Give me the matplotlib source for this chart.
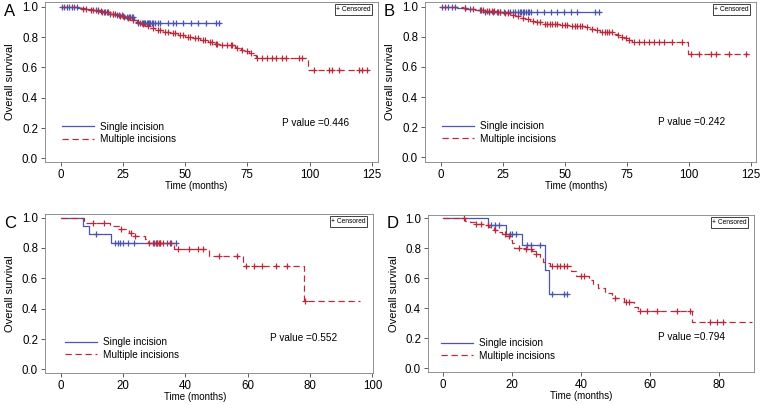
import numpy as np
import matplotlib
matplotlib.use("Agg")
import matplotlib.pyplot as plt

plt.rcParams['font.family'] = ['Liberation Sans', 'DejaVu Sans']

BLUE = '#4a55ad'
RED = '#bb2a3c'

# ---------------- Panel A ----------------
a_single_t = [0, 7, 10, 13, 16, 19, 22, 25, 29.5, 30.5]
a_single_s = [1.0, 0.993, 0.985, 0.975, 0.963, 0.952, 0.942, 0.935, 0.915, 0.892]
a_single_end = 64
a_single_c = [0.5, 1.5, 2.5, 3.5, 4.5, 5.5, 6.5, 14, 15, 16.5, 17.5, 18.5, 20, 21, 22.5, 23.5,
              24.5, 25.5, 26.5, 27.5, 28, 28.5, 29, 31, 32, 32.5, 33, 33.5, 34, 34.5, 35,
              35.5, 36, 36.5, 37, 38, 39, 40, 43, 45, 46.4, 49, 52.4, 55, 58.5, 62.4, 63.7]
a_multi_t = [0, 5, 8, 11, 14, 17, 20, 23, 26, 28, 30, 32, 34, 36, 38, 41, 44, 47, 50, 53, 56,
             59, 62, 64, 70, 71, 72.5, 74, 75.5, 77, 78.5, 99.5]
a_multi_s = [1.0, 0.995, 0.988, 0.98, 0.972, 0.962, 0.952, 0.94, 0.925, 0.912, 0.898, 0.885,
             0.872, 0.86, 0.848, 0.836, 0.824, 0.812, 0.802, 0.792, 0.782, 0.768, 0.756, 0.748,
             0.735, 0.725, 0.715, 0.705, 0.695, 0.68, 0.665, 0.585]
a_multi_end = 124
a_multi_c = [9, 10, 12, 13, 15, 16, 18, 19, 21, 22, 24, 25, 27, 29, 31, 33, 35, 37, 39, 40,
             42, 43, 45, 46, 48, 49, 51, 52, 54, 55, 57, 58, 60, 61, 62.4, 63, 65, 67, 68.4, 69,
             71, 73, 75, 76.4, 79, 81, 83, 84.8, 86.4, 89, 90.6, 95.7, 97, 101.7, 107.7, 109,
             111.7, 119.7, 121, 123]

# ---------------- Panel B ----------------
b_single_t = [0, 6.5, 10, 14, 17]
b_single_s = [1.0, 0.993, 0.985, 0.975, 0.963]
b_single_end = 64
b_single_c = [0.4, 1.7, 3, 4.4, 5.7, 9.7, 12, 16.4, 18, 19.5, 21, 22.5, 24, 25.5, 27, 28,
              29, 30, 31, 32, 32.5, 33, 33.6, 34.5, 35, 35.5, 36.3, 39, 41.6, 44.3, 47, 49.6,
              52.3, 55, 62.2, 63.6]
b_multi_t = [0, 6, 9, 12, 15, 18, 22, 25, 28, 30, 32, 34, 36, 38, 41, 48, 52, 58, 60, 62, 64,
             69.5, 71, 72.5, 74, 75.5, 77, 99.5]
b_multi_s = [1.0, 0.995, 0.99, 0.982, 0.975, 0.97, 0.965, 0.958, 0.948, 0.938, 0.928, 0.918,
             0.905, 0.895, 0.885, 0.878, 0.873, 0.868, 0.855, 0.842, 0.835, 0.82, 0.81, 0.8,
             0.79, 0.778, 0.768, 0.686]
b_multi_end = 124
b_multi_c = [10, 13, 16, 17, 18.5, 19.5, 20.5, 21.5, 23, 24, 26, 27, 29, 31, 33, 35, 37, 39,
             40, 42, 43, 44, 45, 46, 47, 49, 50, 51, 53, 54, 55, 56, 57, 59, 61, 63, 65, 66,
             67, 68, 69, 71.5, 73, 74.5, 76, 78, 80, 82, 84, 86, 88, 90, 93, 97, 101, 104,
             109, 111, 116, 123]

# ---------------- Panel C ----------------
c_single_t = [0, 7.2, 9.1, 16.3]
c_single_s = [1.0, 0.943, 0.892, 0.833]
c_single_end = 37
c_single_c = [11.3, 17.5, 18.3, 19, 20, 21.5, 23.5, 30, 31, 32, 34, 35.5, 37]
c_multi_t = [0, 7.5, 16, 19, 22, 23, 27, 28, 36.5, 47.5, 58.5, 78]
c_multi_s = [1.0, 0.963, 0.943, 0.922, 0.9, 0.88, 0.858, 0.835, 0.796, 0.748, 0.678, 0.45]
c_multi_end = 96
c_multi_c = [10.5, 14, 19.5, 22.5, 24, 28.5, 29.5, 30.5, 31, 31.5, 32, 33, 35, 37.7, 41.2,
             44.1, 45.7, 50.9, 56.7, 59.4, 62.1, 64.7, 69, 72.7, 78.5]

# ---------------- Panel D ----------------
d_single_t = [0, 13.1, 18.4, 22.8, 29.6, 30.7]
d_single_s = [1.0, 0.955, 0.895, 0.822, 0.655, 0.493]
d_single_end = 36
d_single_c = [13.8, 15.2, 16.1, 19.3, 20.1, 21.2, 24.3, 25.5, 28.2, 31.5, 35.2, 35.9]
d_multi_t = [0, 6.3, 7.9, 9.4, 11.8, 13.3, 14.8, 16.2, 17.2, 18.2, 19.2, 19.9, 20.7, 24, 25.7,
             27, 28.1, 29.1, 30.1, 31, 37, 38.5, 42.5, 43.6, 45, 47, 49, 52.5, 55.5, 56.7, 72.2]
d_multi_s = [1.0, 0.985, 0.975, 0.962, 0.955, 0.94, 0.925, 0.91, 0.895, 0.88, 0.855, 0.835,
             0.8, 0.795, 0.78, 0.765, 0.745, 0.71, 0.7, 0.68, 0.648, 0.615, 0.59, 0.56, 0.535,
             0.5, 0.467, 0.445, 0.41, 0.383, 0.306]
d_multi_end = 89.6
d_multi_c = [6, 9.5, 11, 13, 15, 18, 19, 22, 24, 25.5, 27, 31.5, 33, 34, 35, 36, 40, 41, 50,
             53, 54, 57.2, 59.1, 62, 67.8, 71.7, 77.5, 79.5, 81.4]

panels = [
    dict(label='A', rect=(45, 2, 378, 162), xlim=(-6.3, 127.5), ylim=(-0.024, 1.031),
         xticks=[0, 25, 50, 75, 100, 125], pval='P value =0.446',
         single=(a_single_t, a_single_s, a_single_end, a_single_c),
         multi=(a_multi_t, a_multi_s, a_multi_end, a_multi_c),
         ptxt=(0.711, 0.245), xlab=0.453, leg=(0.05, 0.252)),
    dict(label='B', rect=(425, 2, 756, 162), xlim=(-6.3, 127.0), ylim=(-0.031, 1.031),
         xticks=[0, 25, 50, 75, 100, 125], pval='P value =0.242',
         single=(b_single_t, b_single_s, b_single_end, b_single_c),
         multi=(b_multi_t, b_multi_s, b_multi_end, b_multi_c),
         ptxt=(0.705, 0.252), xlab=0.458, leg=(0.05, 0.255)),
    dict(label='C', rect=(45, 214, 373, 373), xlim=(-5.0, 100.2), ylim=(-0.024, 1.024),
         xticks=[0, 20, 40, 60, 80, 100], pval='P value =0.552',
         single=(c_single_t, c_single_s, c_single_end, c_single_c),
         multi=(c_multi_t, c_multi_s, c_multi_end, c_multi_c),
         ptxt=(0.686, 0.222), xlab=0.457, leg=(0.06, 0.225)),
    dict(label='D', rect=(428, 215, 754, 372), xlim=(-4.4, 90.3), ylim=(-0.025, 1.022),
         xticks=[0, 20, 40, 60, 80], pval='P value =0.794',
         single=(d_single_t, d_single_s, d_single_end, d_single_c),
         multi=(d_multi_t, d_multi_s, d_multi_end, d_multi_c),
         ptxt=(0.706, 0.225), xlab=0.471, leg=(0.04, 0.215)),
]

W, H = 761, 405
fig = plt.figure(figsize=(W / 100, H / 100), dpi=100)


def surv_at(times, surv, t):
    idx = np.searchsorted(np.asarray(times), np.asarray(t), side='right') - 1
    return np.asarray(surv)[idx]


for p in panels:
    l, t, r, b = p['rect']
    ax = fig.add_axes([l / W, 1 - b / H, (r - l) / W, (b - t) / H])
    handles = []
    for key, color, ls, name in [('single', BLUE, '-', 'Single incision'),
                                 ('multi', RED, (0, (5, 3)), 'Multiple incisions')]:
        times, surv, end, cens = p[key]
        xs = list(times) + [end]
        ys = list(surv) + [surv[-1]]
        h, = ax.step(xs, ys, where='post', color=color, lw=0.9, linestyle=ls, label=name)
        handles.append(h)
        ax.plot(cens, surv_at(times, surv, cens), linestyle='none', marker='+',
                ms=3.8, mew=0.9, color=color)
    ax.set_xlim(*p['xlim'])
    ax.set_ylim(*p['ylim'])
    ax.set_xticks(p['xticks'])
    ax.set_yticks([0, 0.2, 0.4, 0.6, 0.8, 1.0])
    ax.set_yticklabels(['0.0', '0.2', '0.4', '0.6', '0.8', '1.0'])
    ax.tick_params(direction='out', length=3, width=0.6, labelsize=8.3, pad=2,
                   color='#444444')
    for s in ax.spines.values():
        s.set_linewidth(0.6)
        s.set_color('#808080')
    ax.set_xlabel('Time (months)', fontsize=7)
    ax.xaxis.set_label_coords(p['xlab'], -0.12)
    ax.xaxis.label.set_va('top')
    ax.set_ylabel('Overall survival', fontsize=8)
    ax.yaxis.set_label_coords(-0.09, 0.5)
    leg = ax.legend(handles=handles, loc='upper left', bbox_to_anchor=p['leg'],
                    frameon=False, fontsize=7.2, handlelength=3.2, handletextpad=0.6,
                    labelspacing=0.25, borderpad=0, borderaxespad=0)
    ax.text(p['ptxt'][0], p['ptxt'][1], p['pval'], transform=ax.transAxes,
            fontsize=7.2, ha='left', va='center')
    ax.text(0.978, 0.975, '+ Censored', transform=ax.transAxes, fontsize=4.8,
            ha='right', va='top',
            bbox=dict(boxstyle='square,pad=0.25', fc='white', ec='#222222', lw=0.6))
    fig.text((l - 41) / W, 1 - (t + 9) / H, p['label'], fontsize=12, ha='left',
             va='center')

fig.savefig('out.png', dpi=100)
